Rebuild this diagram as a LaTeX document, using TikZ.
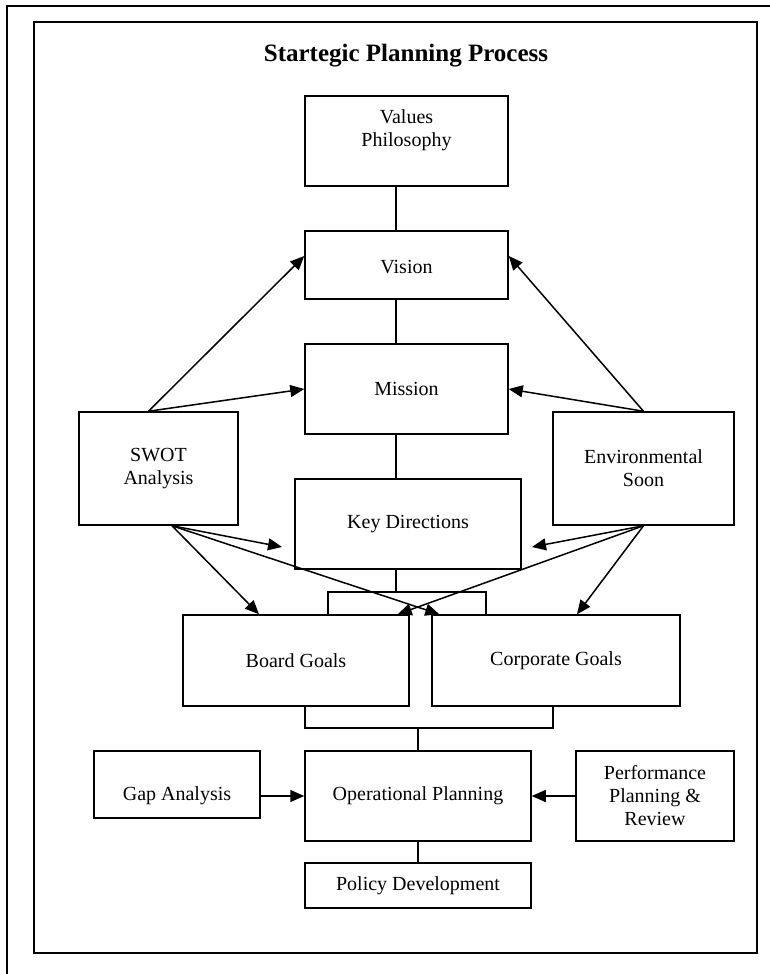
\documentclass[tikz,border=0pt]{standalone}
\usepackage{fontspec}
\setmainfont{Liberation Serif}
\usetikzlibrary{arrows.meta}
% raise a box's contents without changing its size
\newcommand{\liftby}[2]{\raisebox{#1}[\height][\depth]{#2}}
\begin{document}
\begin{tikzpicture}[x=1pt,y=-1pt,
  frame/.style={line width=1.5pt},
  box/.style={draw, line width=1.5pt, rectangle, inner sep=0pt, align=center,
              font=\fontsize{20}{23}\selectfont},
  link/.style={line width=1.5pt},
  arr/.style={line width=1.5pt, -{Triangle[length=14pt,width=12pt]}}]
\useasboundingbox (0,0) rectangle (770,974);

% page frames
\draw[frame] (7,974) -- (7,6) -- (770,6);
\draw[frame] (34,22) rectangle (757,953);

\node[font=\fontsize{25}{30}\selectfont\bfseries, anchor=base] (title) at (406,61.5) {Startegic Planning Process};

% boxes
\node[box, minimum width=203pt, minimum height=90pt] (values) at (406.5,141)
  {\liftby{11pt}{\begin{tabular}{@{}c@{}}Values\\Philosophy\end{tabular}}};
\node[box, minimum width=203pt, minimum height=68pt] (vision) at (406.5,265) {\liftby{-2pt}{Vision}};
\node[box, minimum width=203pt, minimum height=90pt] (mission) at (406.5,389) {Mission};
\node[box, minimum width=226pt, minimum height=90pt] (kd) at (408,524) {Key Directions};
\node[box, minimum width=159pt, minimum height=113pt] (swot) at (158.5,468.5) {SWOT\\Analysis};
\node[box, minimum width=181pt, minimum height=113pt] (env) at (643.5,468.5) {Environmental\\Soon};
\node[box, minimum width=226pt, minimum height=91pt] (board) at (296,660.5) {Board Goals};
\node[box, minimum width=248pt, minimum height=91pt] (corp) at (556,660.5) {Corporate Goals};
\node[box, minimum width=226pt, minimum height=90pt] (op) at (418,796) {Operational Planning};
\node[box, minimum width=166pt, minimum height=67pt] (gap) at (177,784.5) {\liftby{-11.5pt}{Gap Analysis}};
\node[box, minimum width=158pt, minimum height=90pt] (perf) at (655,796) {Performance\\Planning \&\\Review};
\node[box, minimum width=226pt, minimum height=45pt] (policy) at (418,885.5) {Policy Development};

% helper points
\coordinate (spine) at (396,0);
\coordinate (bl) at (328,592);
\coordinate (jt) at (396,592);
\coordinate (br) at (486,592);
\coordinate (bb1) at (305,728);
\coordinate (bb2) at (553,728);
\coordinate (kdtipL) at (282,547);
\coordinate (kdtipR) at (532,547);

% plain links
\draw[link] (values.south -| spine) -- (vision.north -| spine);
\draw[link] (vision.south -| spine) -- (mission.north -| spine);
\draw[link] (mission.south -| spine) -- (kd.north -| spine);
\draw[link] (kd.south -| spine) -- (jt);
\draw[link] (bl |- board.north) -- (bl) -- (br) -- (br |- corp.north);
\draw[link] (board.south -| bb1) -- (bb1) -- (bb2) -- (corp.south -| bb2);
\draw[link] (op.north |- bb1) -- (op.north);
\draw[link] (op.south) -- (policy.north);

% arrows
\draw[arr] ([xshift=-10pt]swot.north) -- ([yshift=9pt]vision.west);
\draw[arr] ([xshift=-10pt]swot.north) -- (mission.west);
\draw[arr] (env.north) -- ([yshift=9pt]vision.east);
\draw[arr] (env.north) -- (mission.east);
\draw[arr] ([xshift=13.5pt]swot.south) -- (kdtipL);
\draw[arr] ([xshift=13.5pt]swot.south) -- ([xshift=-37pt]board.north);
\draw[arr] ([xshift=13.5pt]swot.south) -- ([xshift=8pt]corp.north west);
\draw[arr] (env.south) -- (kdtipR);
\draw[arr] (env.south) -- ([xshift=-12pt]board.north east);
\draw[arr] (env.south) -- ([xshift=21pt]corp.north);
\draw[arr] (gap.east |- op.west) -- (op.west);
\draw[arr] (perf.west) -- (op.east);
\end{tikzpicture}
\end{document}
